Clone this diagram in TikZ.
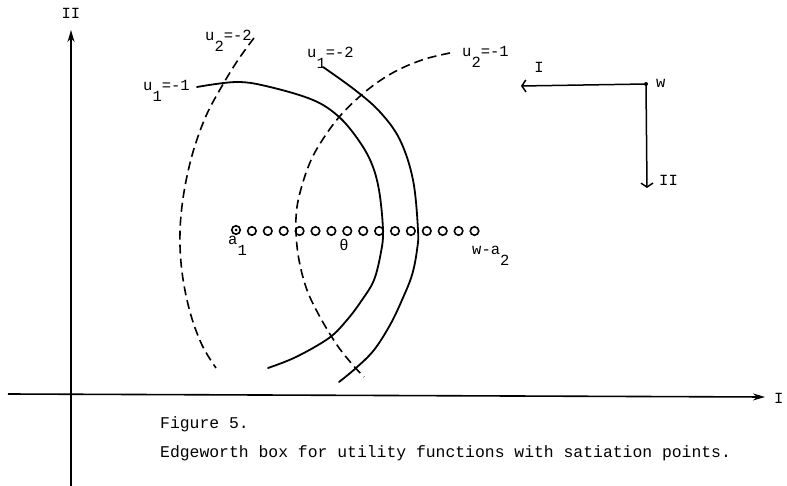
\documentclass[tikz,border=0pt]{standalone}
\usepackage{fontspec}
\setmainfont{Liberation Mono}
\usetikzlibrary{arrows.meta}
\newcommand{\lowsub}[1]{\raisebox{-0.65em}{#1}}
\begin{document}
\begin{tikzpicture}[x=1pt,y=-1pt,
  lbl/.style={inner sep=0pt, anchor=base west, font=\fontsize{15.5}{18}\selectfont},
  captext/.style={inner sep=0pt, anchor=base west, font=\fontsize{16.4}{19}\selectfont},
  curve/.style={line width=1.8pt, line cap=round},
  dcurve/.style={line width=1.6pt, dash pattern=on 9pt off 5pt},
  dot/.style={circle, draw, line width=1.6pt, minimum size=8.5pt, inner sep=0pt},
  axis/.style={line width=1.6pt, -{Stealth[length=12pt,width=7pt]}},
  barb/.style={line width=1.5pt, -{Straight Barb[length=4pt,width=12pt]}}]
\useasboundingbox (0,0) rectangle (787,486);

% axes
\coordinate (vb) at (71,486);
\coordinate (vt) at (71,30);
\coordinate (hl) at (8,394);
\coordinate (hr) at (765,397);
\draw[axis] (vb) -- (vt);
\draw[axis] (hl) -- (hr);
\node[lbl, anchor=base] (IIaxis) at (71,19) {II};
\node[lbl] (Iaxis) at (774,403) {I};

% indifference curves
\draw[dcurve] plot[smooth, tension=0.6] coordinates {(254,38) (238,60) (222,86) (206,116) (193,152) (184,192) (180,232) (182,272) (190,312) (202,345) (216,368)};
\draw[curve] plot[smooth, tension=0.6] coordinates {(197,87) (237,82) (270,87) (313,100) (338,116) (357,138) (371,162) (379,190) (383,230) (381,252) (374,280) (362,300) (347,320) (329,338) (296,357) (268,368)};
\draw[curve] plot[smooth, tension=0.6] coordinates {(323,67) (355,90) (380,112) (400,140) (413,180) (418,230) (417,250) (412,275) (402,300) (390,325) (374,350) (356,368) (339,382)};
\draw[dcurve] plot[smooth, tension=0.6] coordinates {(450,53) (425,59) (400,69) (378,82) (358,98) (340,116) (325,136) (312,158) (303,182) (297,207) (296,232) (299,260) (307,290) (320,317) (337,345) (352,364) (364,377)};

% curve labels
\node[lbl] (u2m2) at (205,41) {u\lowsub{2}=-2};
\node[lbl] (u1m1) at (143,91) {u\lowsub{1}=-1};
\node[lbl] (u1m2) at (307,58) {u\lowsub{1}=-2};
\node[lbl] (u2m1) at (462,57) {u\lowsub{2}=-1};

% row of satiation points
\node[dot] (c0) at (236,230) {};
\fill (c0.center) circle (1.5pt);
\foreach \i in {1,...,15} \node[dot] (c\i) at ({236+15.9*\i},231) {};
\node[lbl] (a1) at (228,245) {a\lowsub{1}};
\node[lbl, anchor=base] (theta) at (344,251) {θ};
\node[lbl] (wa2) at (472,255) {w-a\lowsub{2}};

% w corner arrows
\coordinate (w) at (646,84);
\coordinate (wl) at (521,86);
\coordinate (wd) at (647,188);
\fill (w) circle (2pt);
\draw[barb] (w) -- (wl);
\draw[barb] (w) -- (wd);
\node[lbl] (wlab) at (656,88) {w};
\node[lbl, anchor=base] (Ilab) at (539,73) {I};
\node[lbl] (IIlab) at (659,186) {II};

% caption
\node[captext] (fig) at (160,428) {Figure 5.};
\node[captext] (caption) at (160,457) {Edgeworth box for utility functions with satiation points.};
\end{tikzpicture}
\end{document}
